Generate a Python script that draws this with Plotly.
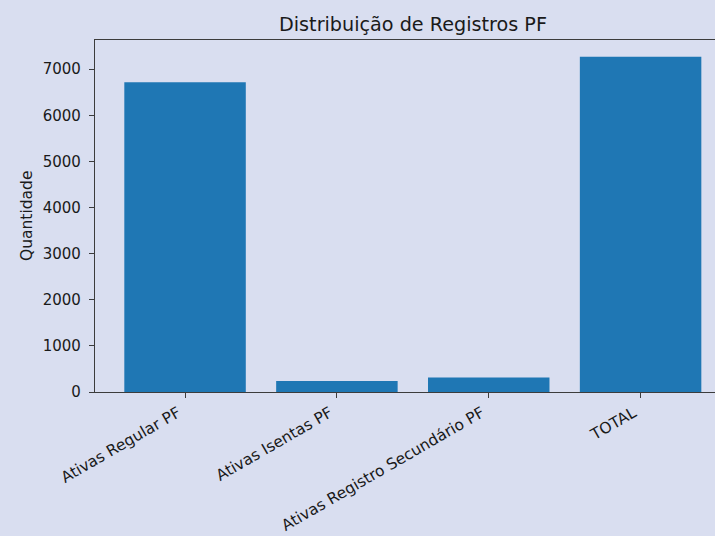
import plotly.graph_objects as go

categories = ["Ativas Regular PF", "Ativas Isentas PF", "Ativas Registro Secundário PF", "TOTAL"]
values = [6715, 240, 315, 7270]
y_ticks = [0, 1000, 2000, 3000, 4000, 5000, 6000, 7000]

BG = "#d9def0"
BAR = "#1f77b4"
LINE = "#3c3c3c"
TXT = "#1a1a1a"
FONT = "DejaVu Sans"

fig = go.Figure(go.Bar(x=categories, y=values, width=0.8, marker=dict(color=BAR, line=dict(width=0))))

fig.update_layout(
    width=715, height=536,
    paper_bgcolor=BG, plot_bgcolor=BG,
    margin=dict(l=95, r=0, t=40, b=144),
    showlegend=False,
    font=dict(family=FONT, size=15, color=TXT),
    title=dict(text="Distribuição de Registros PF", xref="container", yref="container",
               x=413/715, y=1-24/536, xanchor="center", yanchor="middle",
               font=dict(family=FONT, size=19.2, color=TXT)),
    bargap=0.2,
)
fig.update_xaxes(
    type="category", range=[-0.593, 3.49],
    showline=True, linecolor=LINE, linewidth=1.2, mirror=True,
    ticks="outside", ticklen=5, tickcolor=LINE, tickwidth=1.2,
    tickangle=-30, ticklabelshift=-7, showgrid=False, zeroline=False,
    tickfont=dict(family=FONT, size=15.5, color=TXT),
)
fig.update_yaxes(
    range=[0, 7633], tickvals=y_ticks, ticktext=[str(v) for v in y_ticks],
    showline=True, linecolor=LINE, linewidth=1.2,
    ticks="outside", ticklen=5, tickcolor=LINE, tickwidth=1.2,
    ticklabelstandoff=5,
    showgrid=False, zeroline=False,
    tickfont=dict(family=FONT, size=15, color=TXT),
)
fig.add_annotation(text="Quantidade", xref="paper", yref="paper",
                   x=(27-95)/620, y=0.5, textangle=-90, showarrow=False,
                   xanchor="center", yanchor="middle",
                   font=dict(family=FONT, size=15.5, color=TXT))

fig.write_html("out.html", config={"displayModeBar": False},
               post_script="document.body.style.margin='0';document.body.style.overflow='hidden';")
